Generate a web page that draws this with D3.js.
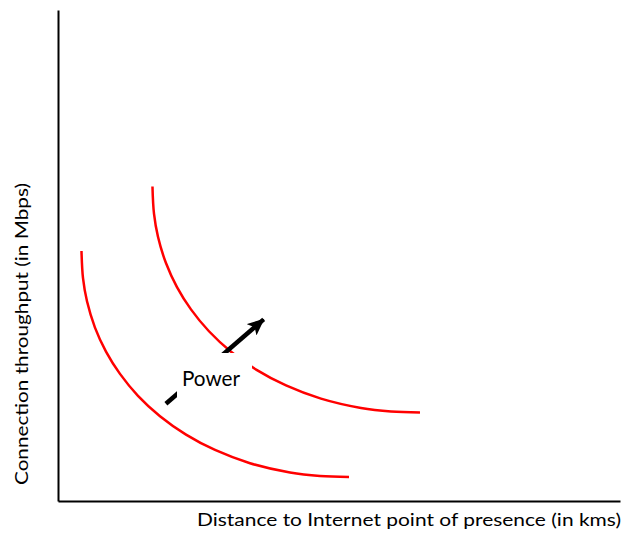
<!DOCTYPE html>
<html>
<head>
<meta charset="utf-8">
<script src="https://cdn.jsdelivr.net/npm/d3@7"></script>
<style>
  body { margin: 0; background: #fff; }
  text { font-family: Lato, "Open Sans", sans-serif; fill: #000; }
</style>
</head>
<body>
<div id="chart"></div>
<script>
// curve readings (arbitrary units, 0-100 on both axes)
var curveLowX = [4.18, 4.45, 5.16, 6.58, 8.54, 11.03, 14.23, 18.15, 22.78, 27.94, 34.16, 41.28, 46.62, 51.78];
var curveLowY = [50.92, 45.38, 40.67, 35.32, 30.43, 25.89, 21.43, 17.27, 13.52, 10.39, 7.70, 5.80, 5.09, 4.89];

var curveHighX = [16.81, 17.08, 17.79, 19.21, 21.17, 23.66, 26.86, 30.78, 35.41, 40.57, 46.79, 53.91, 59.25, 64.41];
var curveHighY = [64.06, 58.52, 53.81, 48.46, 43.57, 39.03, 34.57, 30.41, 26.66, 23.53, 20.84, 18.94, 18.23, 18.03];

var arrowX = [19.2, 36.6];
var arrowY = [19.8, 37.0];

var xTitle = 'Distance to Internet point of presence (in kms)';
var yTitle = 'Connection throughput (in Mbps)';
var arrowLabel = 'Power';

var width = 624, height = 533;

var svg = d3.select('#chart').append('svg')
    .attr('width', width)
    .attr('height', height);

var x = d3.scaleLinear().domain([0, 100]).range([58, 620]);
var y = d3.scaleLinear().domain([0, 100]).range([501, 10]);

//axes, no ticks
svg.append('g')
    .attr('transform', 'translate(0,' + y(0) + ')')
    .call(d3.axisBottom(x).tickValues([]).tickSizeOuter(0))
    .select('.domain').attr('stroke', '#000').attr('stroke-width', 2);

svg.append('g')
    .attr('transform', 'translate(' + x(0) + ',0)')
    .call(d3.axisLeft(y).tickValues([]).tickSizeOuter(0))
    .select('.domain').attr('stroke', '#000').attr('stroke-width', 2);

//curves
var line = d3.line()
    .x(function(d) { return x(d[0]); })
    .y(function(d) { return y(d[1]); })
    .curve(d3.curveCatmullRom.alpha(0.5));

[[curveLowX, curveLowY], [curveHighX, curveHighY]].forEach(function(c) {
  var pts = c[0].map(function(v, i) { return [v, c[1][i]]; });
  svg.append('path')
      .datum(pts)
      .attr('d', line)
      .attr('fill', 'none')
      .attr('stroke', '#ff0000')
      .attr('stroke-width', 2.5);
});

//arrow
svg.append('defs').append('marker')
    .attr('id', 'head')
    .attr('markerUnits', 'userSpaceOnUse')
    .attr('viewBox', '0 0 17 15')
    .attr('refX', 16)
    .attr('refY', 7.5)
    .attr('markerWidth', 17)
    .attr('markerHeight', 15)
    .attr('orient', 'auto')
  .append('path')
    .attr('d', 'M0,0 L17,7.5 L0,15 L4,7.5 Z')
    .attr('fill', '#000');

svg.append('line')
    .attr('x1', x(arrowX[0]))
    .attr('y1', y(arrowY[0]))
    .attr('x2', x(arrowX[1]))
    .attr('y2', y(arrowY[1]))
    .attr('stroke', '#000')
    .attr('stroke-width', 4.5)
    .attr('marker-end', 'url(#head)');

//label box hides part of arrow and curve
svg.append('rect')
    .attr('x', 177)
    .attr('y', 353)
    .attr('width', 75)
    .attr('height', 46)
    .attr('fill', '#fff');

svg.append('text')
    .attr('x', 211)
    .attr('y', 386)
    .attr('text-anchor', 'middle')
    .attr('font-size', 21)
    .attr('textLength', 58)
    .attr('lengthAdjust', 'spacingAndGlyphs')
    .text(arrowLabel);

//axis titles
svg.append('text')
    .attr('x', 197)
    .attr('y', 526)
    .attr('font-size', 18)
    .attr('textLength', 424)
    .attr('lengthAdjust', 'spacingAndGlyphs')
    .text(xTitle);

svg.append('text')
    .attr('transform', 'translate(28,334) rotate(-90)')
    .attr('text-anchor', 'middle')
    .attr('font-size', 18)
    .attr('textLength', 302)
    .attr('lengthAdjust', 'spacingAndGlyphs')
    .text(yTitle);
</script>
</body>
</html>
